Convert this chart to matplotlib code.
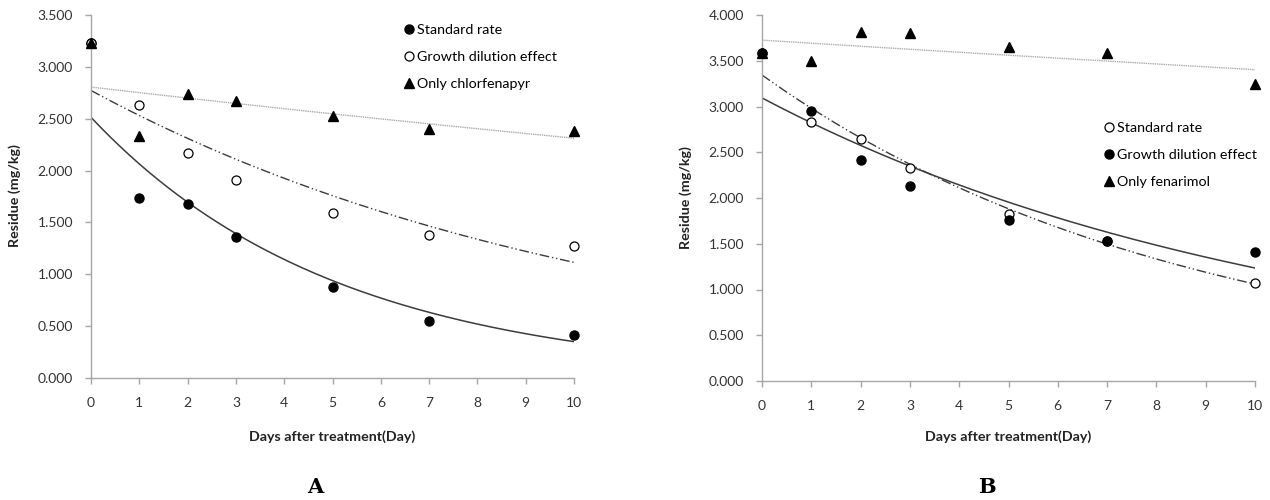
import numpy as np
import matplotlib.pyplot as plt
from matplotlib.lines import Line2D

plt.rcParams['font.family'] = ['Lato', 'DejaVu Sans']

days = [0, 1, 2, 3, 5, 7, 10]

# panel A - chlorfenapyr residues (mg/kg)
a_standard = [3.23, 1.74, 1.68, 1.36, 0.88, 0.55, 0.41]
a_dilution = [3.23, 2.63, 2.17, 1.91, 1.59, 1.38, 1.27]
a_only = [3.23, 2.33, 2.74, 2.67, 2.53, 2.40, 2.38]

# panel B - fenarimol residues (mg/kg)
b_standard = [3.59, 2.83, 2.64, 2.33, 1.83, 1.53, 1.07]
b_dilution = [3.59, 2.95, 2.42, 2.13, 1.76, 1.53, 1.41]
b_only = [3.59, 3.50, 3.81, 3.80, 3.65, 3.58, 3.25]

labels_a = ['Standard rate', 'Growth dilution effect', 'Only chlorfenapyr']
labels_b = ['Standard rate', 'Growth dilution effect', 'Only fenarimol']

SOLID = dict(color='#3c3c3c', lw=1.1, ls='-')
DASHDOT = dict(color='#3c3c3c', lw=1.0, ls=(0, (7, 2, 1, 2, 1, 2)))
DOTTED = dict(color='#ababab', lw=1.0, ls=(0, (1, 0.6)))

FILLED = dict(marker='o', ms=6.5, mfc='black', mec='black', ls='none')
OPEN = dict(marker='o', ms=6.5, mfc='white', mec='black', mew=0.9, ls='none')
TRI = dict(marker='^', ms=6.5, mfc='black', mec='black', ls='none')


def exp_trend(x, y):
    # excel style exponential trendline
    m, b = np.polyfit(x, np.log(y), 1)
    xs = np.linspace(0, 10, 200)
    return xs, np.exp(b) * np.exp(m * xs)


def style_axes(ax, ymax):
    ax.set_xlim(0, 10)
    ax.set_ylim(0, ymax)
    ax.set_xticks(range(0, 11))
    ax.set_yticks(np.arange(0, ymax + 0.01, 0.5))
    ax.set_yticklabels(['%.3f' % v for v in np.arange(0, ymax + 0.01, 0.5)])
    for s in ['top', 'right']:
        ax.spines[s].set_visible(False)
    for s in ['left', 'bottom']:
        ax.spines[s].set_color('#a6a6a6')
        ax.spines[s].set_linewidth(1.0)
    ax.tick_params(axis='both', colors='#a6a6a6', labelcolor='#333333',
                   length=4, width=1.0, labelsize=10)
    ax.tick_params(axis='y', pad=9)
    ax.tick_params(axis='x', pad=10)


fig = plt.figure(figsize=(12.7, 5), dpi=100)
axA = fig.add_axes([0.0717, 0.244, 0.3803, 0.726])
axB = fig.add_axes([0.600, 0.238, 0.3882, 0.732])

# ---- panel A ----
axA.plot(*exp_trend(days, a_only), **DOTTED)
axA.plot(*exp_trend(days, a_dilution), **DASHDOT)
axA.plot(*exp_trend(days, a_standard), **SOLID)
axA.plot(days, a_standard, clip_on=False, zorder=3, **FILLED)
axA.plot(days, a_dilution, clip_on=False, zorder=4, **OPEN)
axA.plot(days, a_only, clip_on=False, zorder=5, **TRI)
style_axes(axA, 3.5)

# ---- panel B ----
axB.plot(*exp_trend(days, b_only), **DOTTED)
axB.plot(*exp_trend(days, b_standard), **DASHDOT)
axB.plot(*exp_trend(days, b_dilution), **SOLID)
axB.plot(days, b_only, clip_on=False, zorder=3, **TRI)
axB.plot(days, b_standard, clip_on=False, zorder=4, **OPEN)
axB.plot(days, b_dilution, clip_on=False, zorder=5, **FILLED)
style_axes(axB, 4.0)

# legends
hA = [Line2D([], [], **FILLED), Line2D([], [], **OPEN), Line2D([], [], **TRI)]
hB = [Line2D([], [], **OPEN), Line2D([], [], **FILLED), Line2D([], [], **TRI)]
leg_kw = dict(frameon=False, fontsize=10.3, handlelength=0.6, handletextpad=0.3,
              labelspacing=1.08, borderpad=0, borderaxespad=0, loc='upper left')
fig.legend(hA, labels_a, bbox_to_anchor=(404.5 / 1270, 1 - 23.5 / 500), **leg_kw)
fig.legend(hB, labels_b, bbox_to_anchor=(1104.5 / 1270, 1 - 121.5 / 500), **leg_kw)

# axis titles
for x, y in [(15, 196), (686, 198)]:
    fig.text(x / 1270, 1 - y / 500, 'Residue (mg/kg)', rotation=90, fontsize=10.3,
             fontweight='bold', ha='center', va='center', color='#222222')
for x in [332, 1008]:
    fig.text(x / 1270, 1 - 437 / 500, 'Days after treatment(Day)', fontsize=10.3,
             fontweight='bold', ha='center', va='center', color='#222222')

# panel letters
fig.text(315 / 1270, 1 - 487 / 500, 'A', fontsize=15, family='DejaVu Serif',
         fontweight='bold', ha='center', va='center')
fig.text(987 / 1270, 1 - 487 / 500, 'B', fontsize=15, family='DejaVu Serif',
         fontweight='bold', ha='center', va='center')

fig.savefig('out.png', dpi=100)
